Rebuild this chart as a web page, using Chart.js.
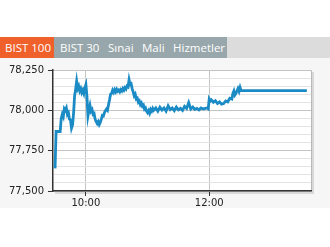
<!DOCTYPE html>
<html>
<head>
<meta charset="utf-8">
<script src="https://cdn.jsdelivr.net/npm/chart.js@4/dist/chart.umd.min.js"></script>
<style>
  body { margin: 0; background: #fff; font-family: "Open Sans", sans-serif; }
  #tabs { position: absolute; top: 37px; left: 0; width: 330px; height: 21px; background: #dcdcdc; }
  #tabs .bg1 { position: absolute; left: 0; top: 0; width: 54px; height: 21px; background: #f0602a; }
  #tabs .bg2 { position: absolute; left: 54px; top: 0; width: 173px; height: 21px; background: #98a7ab; }
  #tabs span { position: absolute; top: 0; line-height: 21px; font-size: 11.5px; color: #fff; white-space: nowrap; }
  #wrap { position: absolute; top: 58px; left: 0; width: 330px; height: 150px; background: #f6f6f6; }
</style>
</head>
<body>
<div id="tabs">
  <div class="bg1"></div>
  <div class="bg2"></div>
  <span style="left:5px">BIST 100</span>
  <span style="left:60px">BIST 30</span>
  <span style="left:108px">Sınai</span>
  <span style="left:142px">Mali</span>
  <span style="left:173px">Hizmetler</span>
</div>
<div id="wrap"><canvas id="myChart" width="330" height="150"></canvas></div>

<script>
// BIST 100 intraday
const times = [
  '09:30', '09:31', '09:32', '09:33', '09:34', '09:35', '09:36', '09:37', '09:38', '09:39',
  '09:40', '09:41', '09:42', '09:43', '09:44', '09:45', '09:46', '09:47', '09:48', '09:49',
  '09:50', '09:51', '09:52', '09:53', '09:54', '09:55', '09:56', '09:57', '09:58', '09:59',
  '10:00', '10:01', '10:02', '10:03', '10:04', '10:05', '10:06', '10:07', '10:08', '10:09',
  '10:10', '10:11', '10:12', '10:13', '10:14', '10:15', '10:16', '10:17', '10:18', '10:19',
  '10:20', '10:21', '10:22', '10:23', '10:24', '10:25', '10:26', '10:27', '10:28', '10:29',
  '10:30', '10:31', '10:32', '10:33', '10:34', '10:35', '10:36', '10:37', '10:38', '10:39',
  '10:40', '10:41', '10:42', '10:43', '10:44', '10:45', '10:46', '10:47', '10:48', '10:49',
  '10:50', '10:51', '10:52', '10:53', '10:54', '10:55', '10:56', '10:57', '10:58', '10:59',
  '11:00', '11:01', '11:02', '11:03', '11:04', '11:05', '11:06', '11:08', '11:10', '11:12',
  '11:14', '11:16', '11:18', '11:20', '11:22', '11:24', '11:26', '11:28', '11:30', '11:32',
  '11:34', '11:36', '11:38', '11:40', '11:42', '11:44', '11:46', '11:48', '11:50', '11:52',
  '11:54', '11:56', '11:58', '11:59', '12:00', '12:01', '12:02', '12:04', '12:06', '12:08',
  '12:10', '12:12', '12:14', '12:16', '12:18', '12:20', '12:22', '12:23', '12:24', '12:25',
  '12:26', '12:28', '12:29', '12:30', '12:31', '12:32', '13:35'
];
const values = [
  77640, 77870, 77870, 77868, 77870, 77869, 77950, 77975, 77960, 78010,
  78000, 78015, 77975, 77985, 77945, 77940, 77890, 77910, 77980, 78090,
  78130, 78180, 78135, 78150, 78120, 78135, 78110, 78125, 78105, 78140,
  78160, 78090, 77965, 78000, 78030, 77995, 78005, 77975, 77980, 77945,
  77930, 77918, 77930, 77912, 77925, 77945, 77968, 77965, 77985, 77998,
  78008, 78000, 78035, 78065, 78100, 78105, 78125, 78112, 78128, 78115,
  78130, 78118, 78125, 78115, 78128, 78120, 78135, 78125, 78140, 78132,
  78150, 78145, 78190, 78160, 78165, 78135, 78115, 78090, 78100, 78070,
  78075, 78050, 78058, 78035, 78045, 78025, 78032, 78008, 78015, 77995,
  77985, 77998, 77982, 78005, 77995, 78012, 78000, 78015, 77995, 78020,
  78002, 78015, 77995, 78028, 78005, 78015, 77998, 78020, 78003, 78012,
  78000, 78025, 78012, 78048, 78008, 78020, 78005, 78012, 78003, 78015,
  78008, 78012, 78015, 78010, 78070, 78058, 78065, 78050, 78060, 78042,
  78052, 78038, 78042, 78058, 78052, 78075, 78070, 78105, 78120, 78095,
  78105, 78135, 78118, 78142, 78122, 78122, 78122
];
const xTickLabels = ['10:00', '12:00'];
const yMin = 77500, yMax = 78250, yStep = 50, yMajor = 250;
const xMin = '09:28', xMax = '13:39';

function toMin(t) {
  const p = t.split(':');
  return +p[0] * 60 + +p[1];
}
function fmtTime(m) {
  const h = Math.floor(m / 60), mm = m % 60;
  return h + ':' + (mm < 10 ? '0' : '') + mm;
}

const plotBg = {
  id: 'plotBg',
  beforeDraw(chart) {
    const { ctx, chartArea: a } = chart;
    ctx.save();
    ctx.fillStyle = '#d8d8d8';
    ctx.fillRect(a.left + 2, a.top + 2, a.right - a.left + 1, a.bottom - a.top + 1);
    ctx.fillStyle = '#ffffff';
    ctx.fillRect(a.left, a.top, a.right - a.left, a.bottom - a.top);
    ctx.strokeStyle = '#b8b8b8';
    ctx.lineWidth = 1;
    ctx.beginPath();
    ctx.moveTo(a.left, a.top + 0.5);
    ctx.lineTo(a.right + 0.5, a.top + 0.5);
    ctx.lineTo(a.right + 0.5, a.bottom);
    ctx.stroke();
    ctx.restore();
  }
};

const font = { family: 'DejaVu Sans', size: 10 };

const data = {
  datasets: [{
    label: 'BIST 100',
    data: times.map((t, i) => ({ x: toMin(t), y: values[i] })),
    borderColor: '#1b8bc5',
    borderWidth: 2.8,
    pointRadius: 0,
    tension: 0,
    fill: false
  }]
};

const config = {
  type: 'line',
  data: data,
  options: {
    responsive: false,
    animation: false,
    layout: { padding: { top: 12, right: 19, left: 0, bottom: 0 } },
    plugins: { legend: { display: false }, tooltip: { enabled: false } },
    scales: {
      x: {
        type: 'linear',
        min: toMin(xMin),
        max: toMin(xMax),
        afterBuildTicks: s => { s.ticks = xTickLabels.map(t => ({ value: toMin(t) })); },
        afterFit: s => { s.height = 17; },
        ticks: { callback: v => fmtTime(v), font: font, color: '#222', padding: 1, maxRotation: 0 },
        grid: { color: '#c4c4c4', tickColor: '#333', tickLength: 5 },
        border: { color: '#333', width: 1.5 }
      },
      y: {
        min: yMin,
        max: yMax,
        afterFit: s => { s.width = 53; },
        ticks: {
          stepSize: yStep,
          maxTicksLimit: 40,
          autoSkip: false,
          font: font,
          color: '#222',
          padding: 4,
          callback: v => v % yMajor === 0 ? v.toLocaleString('en-US') : ''
        },
        grid: {
          color: c => c.tick && c.tick.value % yMajor === 0 ? '#c4c4c4' : '#e4e4e4',
          tickColor: c => c.tick && c.tick.value % yMajor === 0 ? '#333' : 'rgba(0,0,0,0)',
          tickLength: 5
        },
        border: { color: '#333', width: 1.5 }
      }
    }
  },
  plugins: [plotBg]
};

const myChart = new Chart(document.getElementById('myChart'), config);
</script>
</body>
</html>
